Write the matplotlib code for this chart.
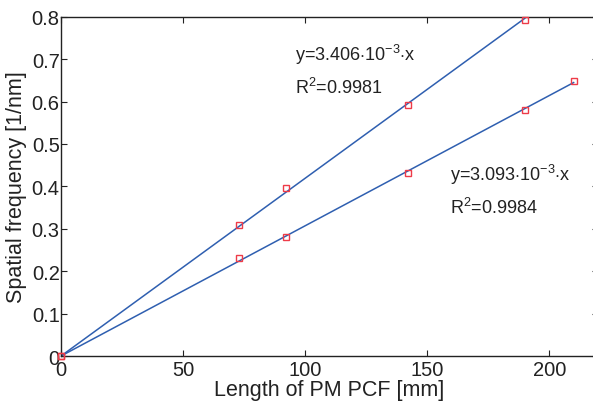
import numpy as np
import matplotlib
matplotlib.use('Agg')
import matplotlib.pyplot as plt

plt.rcParams['font.family'] = ['Liberation Sans', 'DejaVu Sans']
plt.rcParams['mathtext.fontset'] = 'custom'
plt.rcParams['mathtext.rm'] = 'Liberation Sans'
plt.rcParams['axes.unicode_minus'] = True

# measured points (length [mm], spatial frequency [1/nm])
x_a = [0, 73, 92, 142, 190]
y_a = [0, 0.31, 0.395, 0.591, 0.793]
x_b = [0, 73, 92, 142, 190, 210]
y_b = [0, 0.23, 0.281, 0.432, 0.58, 0.649]

label_a = ['y=3.406$\\cdot$10$^{\\mathregular{-3}}$$\\cdot$x', 'R$^{\\mathregular{2}}$=0.9981']
label_b = ['y=3.093$\\cdot$10$^{\\mathregular{-3}}$$\\cdot$x', 'R$^{\\mathregular{2}}$=0.9984']

xticks = [0, 50, 100, 150, 200]
yticks = [0, 0.1, 0.2, 0.3, 0.4, 0.5, 0.6, 0.7, 0.8]

line_color = '#2f5fb0'
mark_color = '#ee3b48'
txt = '#222222'

fig = plt.figure(figsize=(5.93, 4.02), dpi=100)
ax = fig.add_axes([0.1029, 0.1119, 0.9056, 0.8441])


def fit_line(xs, ys):
    # least squares through origin
    xs = np.asarray(xs, float)
    ys = np.asarray(ys, float)
    k = (xs * ys).sum() / (xs * xs).sum()
    xx = np.array([0, xs.max()])
    return xx, k * xx


for xs, ys in [(x_a, y_a), (x_b, y_b)]:
    lx, ly = fit_line(xs, ys)
    ax.plot(lx, ly, color=line_color, lw=1.1, zorder=2)
    ax.plot(xs, ys, 's', ms=5, mfc='none', mec=mark_color, mew=1.0,
            zorder=3, clip_on=False)

ax.text(96, 0.712, label_a[0], fontsize=13, va='center', color=txt)
ax.text(96, 0.634, label_a[1], fontsize=13, va='center', color=txt)
ax.text(159.5, 0.43, label_b[0], fontsize=13, va='center', color=txt)
ax.text(159.5, 0.352, label_b[1], fontsize=13, va='center', color=txt)

ax.set_xlim(0, 220)
ax.set_ylim(0, 0.8)
ax.set_xticks(xticks)
ax.set_xticklabels([str(t) for t in xticks])
ax.set_yticks(yticks)
ax.set_yticklabels(['0'] + ['%.1f' % t for t in yticks[1:]])
ax.tick_params(direction='in', length=4, width=0.8, labelsize=14.5, colors=txt,
               top=True, right=True)
ax.tick_params(axis='x', pad=3)
ax.tick_params(axis='y', pad=1)
for s in ax.spines.values():
    s.set_linewidth(1.0)
    s.set_color(txt)
ax.spines['right'].set_visible(False)

ax.set_xlabel('Length of PM PCF [mm]', fontsize=15.5, color=txt, labelpad=0)
ax.set_ylabel('Spatial frequency [1/nm]', fontsize=15.5, color=txt, labelpad=3)

fig.savefig('out.png', dpi=100)
